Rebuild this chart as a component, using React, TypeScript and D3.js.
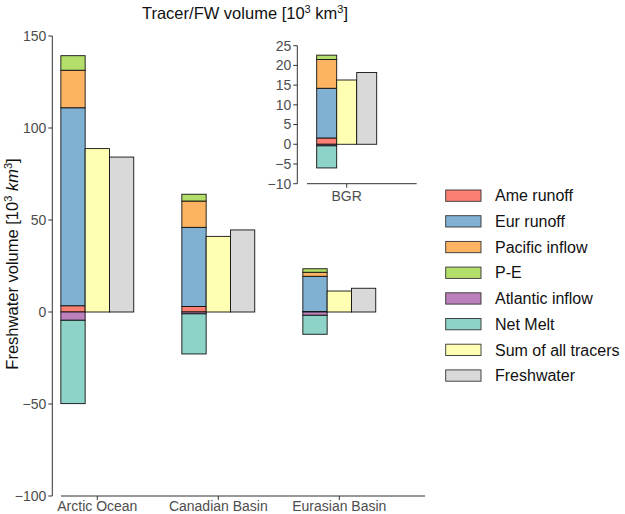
import * as d3 from 'd3';

// main panel: freshwater components per region [10^3 km^3]
const categories = ['Arctic Ocean', 'Canadian Basin', 'Eurasian Basin'];
const ameRunoff = [3.4, 3.0, 0.3];
const eurRunoff = [107.6, 43.0, 19.1];
const pacificInflow = [20.4, 14.3, 2.2];
const pMinusE = [7.9, 3.7, 1.9];
const atlanticInflow = [-4.5, -1.0, -1.8];
const netMelt = [-45.3, -21.8, -10.3];
const sumTracers = [88.8, 41.1, 11.4];
const freshwater = [84.2, 44.6, 12.9];
const yTicks = [-100, -50, 0, 50, 100, 150];

// inset panel: Beaufort Gyre region
const insetCategories = ['BGR'];
const bgrAme = [1.6];
const bgrEur = [12.6];
const bgrPacific = [7.3];
const bgrPE = [1.1];
const bgrAtlantic = [-0.4];
const bgrMelt = [-5.6];
const bgrSum = [16.3];
const bgrFreshwater = [18.2];
const insetTicks = [-10, -5, 0, 5, 10, 15, 20, 25];

const tracerKeys = ['Ame runoff', 'Eur runoff', 'Pacific inflow', 'P-E', 'Atlantic inflow', 'Net Melt'];
const legendKeys = [...tracerKeys, 'Sum of all tracers', 'Freshwater'];
const colors = ['#FB8072', '#80B1D3', '#FDB462', '#B3DE69', '#BC80BD', '#8DD3C7', '#FFFFB3', '#D9D9D9'];

const font = '"Liberation Sans", Arial, Helvetica, sans-serif';
const axisCol = '#333';
const tickTextCol = '#4d4d4d';

const color = d3.scaleOrdinal<string, string>().domain(legendKeys).range(colors);

const toRows = (cats, cols) =>
    cats.map((c, i) => {
        const row: any = {category: c};
        tracerKeys.forEach((k, j) => (row[k] = cols[j][i]));
        return row;
    });

const mainRows = toRows(categories, [ameRunoff, eurRunoff, pacificInflow, pMinusE, atlanticInflow, netMelt]);
const insetRows = toRows(insetCategories, [bgrAme, bgrEur, bgrPacific, bgrPE, bgrAtlantic, bgrMelt]);

const stacker = d3.stack<any>().keys(tracerKeys).offset(d3.stackOffsetDiverging);

const Panel = ({rows, cats, sums, fws, x, y, barW, ticks, xAxis, yAxisX, yTop, yBottom, fontSize, labelY}) => {
    const series = stacker(rows);
    const mid = (c) => x(c) + x.bandwidth() / 2;
    return (
        <g>
            {series.map((s) =>
                s.map((d, i) => (
                    <rect
                        key={s.key + i}
                        x={mid(cats[i]) - 1.5 * barW}
                        width={barW}
                        y={y(d[1])}
                        height={Math.abs(y(d[0]) - y(d[1]))}
                        fill={color(s.key)}
                        stroke="#111"
                        strokeWidth={0.9}
                    />
                ))
            )}
            {cats.map((c, i) => (
                <g key={c}>
                    <rect
                        x={mid(c) - 0.5 * barW}
                        width={barW}
                        y={y(Math.max(0, sums[i]))}
                        height={Math.abs(y(sums[i]) - y(0))}
                        fill={color('Sum of all tracers')}
                        stroke="#111"
                        strokeWidth={0.9}
                    />
                    <rect
                        x={mid(c) + 0.5 * barW}
                        width={barW}
                        y={y(Math.max(0, fws[i]))}
                        height={Math.abs(y(fws[i]) - y(0))}
                        fill={color('Freshwater')}
                        stroke="#111"
                        strokeWidth={0.9}
                    />
                </g>
            ))}
            {/* y axis */}
            <line x1={yAxisX} x2={yAxisX} y1={yTop} y2={yBottom} stroke={axisCol} />
            {ticks.map((t) => (
                <g key={t} transform={`translate(0,${y(t)})`}>
                    <line x1={yAxisX - 4} x2={yAxisX} stroke={axisCol} />
                    <text
                        x={yAxisX - 6}
                        dy="0.35em"
                        textAnchor="end"
                        fontSize={fontSize}
                        fill={tickTextCol}
                        fontFamily={font}
                    >
                        {d3.format('')(t)}
                    </text>
                </g>
            ))}
            {/* x axis */}
            <line x1={xAxis.x1} x2={xAxis.x2} y1={xAxis.y} y2={xAxis.y} stroke={axisCol} />
            {cats.map((c) => (
                <g key={c} transform={`translate(${mid(c)},${xAxis.y})`}>
                    <line y1={0} y2={4} stroke={axisCol} />
                    <text y={labelY} textAnchor="middle" fontSize={fontSize} fill={tickTextCol} fontFamily={font}>
                        {c}
                    </text>
                </g>
            ))}
        </g>
    );
};

export default function App() {
    const width = 625;
    const height = 514;

    const y = d3.scaleLinear().domain([-100, 150]).range([496, 36]);
    const x = d3.scaleBand().domain(categories).range([36.8, 399.8]);

    const yIn = d3.scaleLinear().domain([-10, 25]).range([183.7, 45.7]);
    const xIn = d3.scaleBand().domain(insetCategories).range([307, 386.4]);

    return (
        <svg width={width} height={height} style={{position: 'absolute', left: 0, top: 0, background: '#fff'}}>
            <text x={245} y={18.5} textAnchor="middle" fontSize={16.5} fontFamily={font} fill="#111">
                Tracer/FW volume [10
                <tspan fontSize={11} dy={-6}>3</tspan>
                <tspan dy={6}> km</tspan>
                <tspan fontSize={11} dy={-6}>3</tspan>
                <tspan dy={6}>]</tspan>
            </text>
            <text
                transform="translate(18.3,264) rotate(-90)"
                textAnchor="middle"
                fontSize={16.5}
                fontFamily={font}
                fill="#111"
            >
                Freshwater volume [10
                <tspan fontSize={11} dy={-6}>3</tspan>
                <tspan dy={6}> </tspan>
                <tspan fontStyle="italic">km</tspan>
                <tspan fontSize={11} dy={-6}>3</tspan>
                <tspan dy={6}>]</tspan>
            </text>

            <Panel
                rows={mainRows}
                cats={categories}
                sums={sumTracers}
                fws={freshwater}
                x={x}
                y={y}
                barW={24.3}
                ticks={yTicks}
                xAxis={{x1: 61, x2: 425, y: 496}}
                yAxisX={52.3}
                yTop={36}
                yBottom={496}
                fontSize={14}
                labelY={14.5}
            />
            <Panel
                rows={insetRows}
                cats={insetCategories}
                sums={bgrSum}
                fws={bgrFreshwater}
                x={xIn}
                y={yIn}
                barW={20}
                ticks={insetTicks}
                xAxis={{x1: 307, x2: 416.7, y: 183.7}}
                yAxisX={297.3}
                yTop={45.7}
                yBottom={183.7}
                fontSize={14}
                labelY={17.5}
            />

            <g transform="translate(445.7,190)">
                {legendKeys.map((k, i) => (
                    <g key={k} transform={`translate(0,${i * 25.7})`}>
                        <rect width={35.3} height={11.3} fill={color(k)} stroke="#333" strokeWidth={0.9} />
                        <text x={49.3} y={5.7} dy="0.35em" fontSize={16} fontFamily={font} fill="#111">
                            {k}
                        </text>
                    </g>
                ))}
            </g>
        </svg>
    );
}
